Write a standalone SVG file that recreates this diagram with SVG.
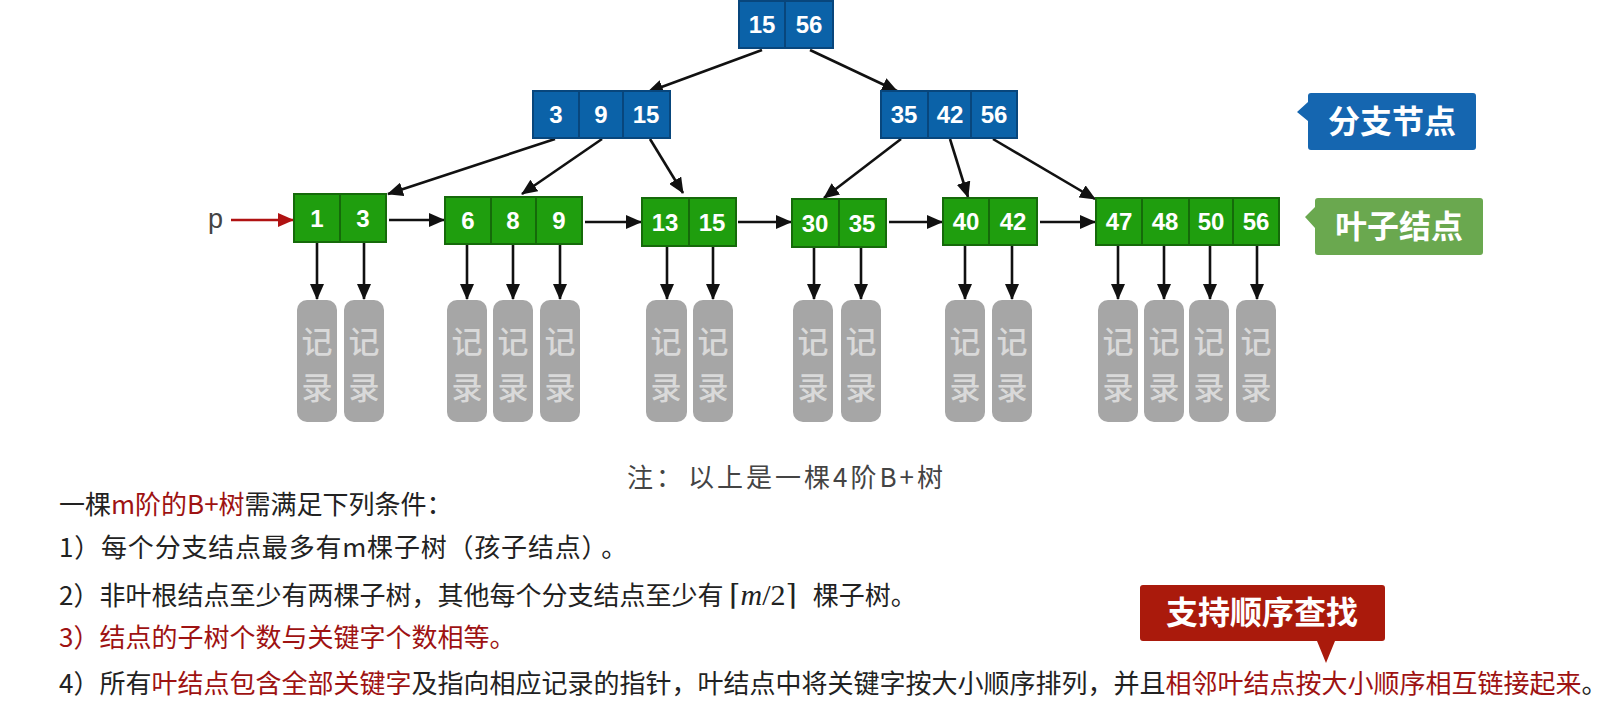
<svg xmlns="http://www.w3.org/2000/svg" width="1621" height="720" viewBox="0 0 1621 720">
<defs>
<style>
.bn{fill:#0b62a8;stroke:#08467c;stroke-width:2}
.ln{fill:#1f9e0e;stroke:#156a0a;stroke-width:2}
.bn-d{stroke:#08467c;stroke-width:2}
.ln-d{stroke:#156a0a;stroke-width:2}
.k{font-family:"Liberation Sans",Arial,sans-serif;font-weight:bold;font-size:24px;fill:#ffffff;text-anchor:middle}
.rec{fill:#a6a6a6}
.rt{font-family:"Noto Sans CJK SC",sans-serif;font-size:31px;font-weight:500;fill:#d9d9d9;text-anchor:middle}
.c{stroke:#111;stroke-width:2.6;fill:none}
.cr{stroke:#b01212;stroke-width:2.6;fill:none}
.t{font-family:"Noto Sans CJK SC",sans-serif;font-size:26px;fill:#222}
.red{fill:#9e1212}
.note{font-family:"Noto Sans CJK SC",sans-serif;font-size:26px;fill:#444;letter-spacing:3px}
.ct{font-family:"Noto Sans CJK SC",sans-serif;font-weight:bold;font-size:32px;fill:#ffffff;text-anchor:middle}
</style>
<marker id="ah" markerUnits="userSpaceOnUse" markerWidth="16" markerHeight="14" refX="15" refY="7" orient="auto">
<path d="M0,0 L16,7 L0,14 z" fill="#111"/>
</marker>
<marker id="ahr" markerUnits="userSpaceOnUse" markerWidth="16" markerHeight="14" refX="15" refY="7" orient="auto">
<path d="M0,0 L16,7 L0,14 z" fill="#b01212"/>
</marker>
</defs>
<rect width="1621" height="720" fill="#ffffff"/>

<g id="connectors">
<line class="c" x1="762" y1="50" x2="648" y2="92" marker-end="url(#ah)"/>
<line class="c" x1="810" y1="50" x2="897" y2="91" marker-end="url(#ah)"/>
<line class="c" x1="555" y1="139" x2="388" y2="194" marker-end="url(#ah)"/>
<line class="c" x1="602" y1="139" x2="522" y2="194" marker-end="url(#ah)"/>
<line class="c" x1="650" y1="139" x2="683" y2="193" marker-end="url(#ah)"/>
<line class="c" x1="901" y1="139" x2="824" y2="198" marker-end="url(#ah)"/>
<line class="c" x1="950" y1="139" x2="968" y2="197" marker-end="url(#ah)"/>
<line class="c" x1="993" y1="139" x2="1095" y2="199" marker-end="url(#ah)"/>
<line class="cr" x1="231" y1="220" x2="293" y2="220" marker-end="url(#ahr)"/>
<line class="c" x1="389" y1="220" x2="444" y2="220" marker-end="url(#ah)"/>
<line class="c" x1="585" y1="222" x2="641" y2="222" marker-end="url(#ah)"/>
<line class="c" x1="738" y1="222" x2="791" y2="222" marker-end="url(#ah)"/>
<line class="c" x1="889" y1="222" x2="942" y2="222" marker-end="url(#ah)"/>
<line class="c" x1="1040" y1="222" x2="1095" y2="222" marker-end="url(#ah)"/>
<line class="c" x1="317" y1="243" x2="317" y2="299" marker-end="url(#ah)"/>
<line class="c" x1="364" y1="243" x2="364" y2="299" marker-end="url(#ah)"/>
<line class="c" x1="467" y1="245" x2="467" y2="299" marker-end="url(#ah)"/>
<line class="c" x1="513" y1="245" x2="513" y2="299" marker-end="url(#ah)"/>
<line class="c" x1="560" y1="245" x2="560" y2="299" marker-end="url(#ah)"/>
<line class="c" x1="667" y1="247" x2="667" y2="299" marker-end="url(#ah)"/>
<line class="c" x1="713" y1="247" x2="713" y2="299" marker-end="url(#ah)"/>
<line class="c" x1="814" y1="248" x2="814" y2="299" marker-end="url(#ah)"/>
<line class="c" x1="861" y1="248" x2="861" y2="299" marker-end="url(#ah)"/>
<line class="c" x1="965" y1="246" x2="965" y2="299" marker-end="url(#ah)"/>
<line class="c" x1="1012" y1="246" x2="1012" y2="299" marker-end="url(#ah)"/>
<line class="c" x1="1118" y1="246" x2="1118" y2="299" marker-end="url(#ah)"/>
<line class="c" x1="1164" y1="246" x2="1164" y2="299" marker-end="url(#ah)"/>
<line class="c" x1="1210" y1="246" x2="1210" y2="299" marker-end="url(#ah)"/>
<line class="c" x1="1257" y1="246" x2="1257" y2="299" marker-end="url(#ah)"/>
</g>

<g id="root">
<rect class="bn" x="739" y="1" width="94" height="47"/>
<line class="bn-d" x1="785" y1="1" x2="785" y2="48"/>
<text class="k" x="762" y="33">15</text>
<text class="k" x="809" y="33">56</text>
</g>

<g id="branch-left">
<rect class="bn" x="533" y="91" width="137" height="47"/>
<line class="bn-d" x1="579" y1="91" x2="579" y2="138"/>
<line class="bn-d" x1="623" y1="91" x2="623" y2="138"/>
<text class="k" x="556" y="123">3</text>
<text class="k" x="601" y="123">9</text>
<text class="k" x="646" y="123">15</text>
</g>

<g id="branch-right">
<rect class="bn" x="881" y="91" width="136" height="47"/>
<line class="bn-d" x1="928" y1="91" x2="928" y2="138"/>
<line class="bn-d" x1="971" y1="91" x2="971" y2="138"/>
<text class="k" x="904" y="123">35</text>
<text class="k" x="950" y="123">42</text>
<text class="k" x="994" y="123">56</text>
</g>

<g id="leaf1">
<rect class="ln" x="294" y="194" width="92" height="48"/>
<line class="ln-d" x1="340" y1="194" x2="340" y2="242"/>
<text class="k" x="317" y="227">1</text>
<text class="k" x="363" y="227">3</text>
</g>

<g id="leaf2">
<rect class="ln" x="445" y="197" width="137" height="47"/>
<line class="ln-d" x1="491" y1="197" x2="491" y2="244"/>
<line class="ln-d" x1="536" y1="197" x2="536" y2="244"/>
<text class="k" x="468" y="229">6</text>
<text class="k" x="513" y="229">8</text>
<text class="k" x="559" y="229">9</text>
</g>

<g id="leaf3">
<rect class="ln" x="642" y="198" width="94" height="48"/>
<line class="ln-d" x1="689" y1="198" x2="689" y2="246"/>
<text class="k" x="665" y="231">13</text>
<text class="k" x="712" y="231">15</text>
</g>

<g id="leaf4">
<rect class="ln" x="792" y="199" width="94" height="48"/>
<line class="ln-d" x1="839" y1="199" x2="839" y2="247"/>
<text class="k" x="815" y="232">30</text>
<text class="k" x="862" y="232">35</text>
</g>

<g id="leaf5">
<rect class="ln" x="943" y="198" width="94" height="47"/>
<line class="ln-d" x1="989" y1="198" x2="989" y2="245"/>
<text class="k" x="966" y="230">40</text>
<text class="k" x="1013" y="230">42</text>
</g>

<g id="leaf6">
<rect class="ln" x="1096" y="198" width="183" height="47"/>
<line class="ln-d" x1="1142" y1="198" x2="1142" y2="245"/>
<line class="ln-d" x1="1189" y1="198" x2="1189" y2="245"/>
<line class="ln-d" x1="1233" y1="198" x2="1233" y2="245"/>
<text class="k" x="1119" y="230">47</text>
<text class="k" x="1165" y="230">48</text>
<text class="k" x="1211" y="230">50</text>
<text class="k" x="1256" y="230">56</text>
</g>

<g id="records">
<rect class="rec" x="297" y="300" width="40" height="122" rx="10"/><text class="rt" x="317" y="353">记</text><text class="rt" x="317" y="399">录</text>
<rect class="rec" x="344" y="300" width="40" height="122" rx="10"/><text class="rt" x="364" y="353">记</text><text class="rt" x="364" y="399">录</text>
<rect class="rec" x="447" y="300" width="40" height="122" rx="10"/><text class="rt" x="467" y="353">记</text><text class="rt" x="467" y="399">录</text>
<rect class="rec" x="493" y="300" width="40" height="122" rx="10"/><text class="rt" x="513" y="353">记</text><text class="rt" x="513" y="399">录</text>
<rect class="rec" x="540" y="300" width="40" height="122" rx="10"/><text class="rt" x="560" y="353">记</text><text class="rt" x="560" y="399">录</text>
<rect class="rec" x="646" y="300" width="41" height="122" rx="10"/><text class="rt" x="666" y="353">记</text><text class="rt" x="666" y="399">录</text>
<rect class="rec" x="693" y="300" width="40" height="122" rx="10"/><text class="rt" x="713" y="353">记</text><text class="rt" x="713" y="399">录</text>
<rect class="rec" x="793" y="300" width="40" height="122" rx="10"/><text class="rt" x="813" y="353">记</text><text class="rt" x="813" y="399">录</text>
<rect class="rec" x="841" y="300" width="40" height="122" rx="10"/><text class="rt" x="861" y="353">记</text><text class="rt" x="861" y="399">录</text>
<rect class="rec" x="945" y="300" width="40" height="122" rx="10"/><text class="rt" x="965" y="353">记</text><text class="rt" x="965" y="399">录</text>
<rect class="rec" x="992" y="300" width="40" height="122" rx="10"/><text class="rt" x="1012" y="353">记</text><text class="rt" x="1012" y="399">录</text>
<rect class="rec" x="1098" y="300" width="40" height="122" rx="10"/><text class="rt" x="1118" y="353">记</text><text class="rt" x="1118" y="399">录</text>
<rect class="rec" x="1144" y="300" width="40" height="122" rx="10"/><text class="rt" x="1164" y="353">记</text><text class="rt" x="1164" y="399">录</text>
<rect class="rec" x="1189" y="300" width="40" height="122" rx="10"/><text class="rt" x="1209" y="353">记</text><text class="rt" x="1209" y="399">录</text>
<rect class="rec" x="1236" y="300" width="40" height="122" rx="10"/><text class="rt" x="1256" y="353">记</text><text class="rt" x="1256" y="399">录</text>
</g>

<g id="pointer-p">
<text x="208" y="228" font-family="Liberation Sans, Arial, sans-serif" font-size="27" fill="#444">p</text>
</g>

<g id="callout-branch">
<path d="M1311,93 H1473 Q1476,93 1476,96 V147 Q1476,150 1473,150 H1311 Q1308,150 1308,147 V121 L1297,112 L1308,102 V96 Q1308,93 1311,93 Z" fill="#1566b0"/>
<text class="ct" x="1392" y="133">分支节点</text>
</g>

<g id="callout-leaf">
<path d="M1318,198 H1480 Q1483,198 1483,201 V252 Q1483,255 1480,255 H1318 Q1315,255 1315,252 V228 L1305,217 L1315,207 V201 Q1315,198 1318,198 Z" fill="#6aa84f"/>
<text class="ct" x="1399" y="238">叶子结点</text>
</g>

<g id="callout-seq">
<path d="M1143,585 H1382 Q1385,585 1385,588 V638 Q1385,641 1382,641 H1335 L1326,663 L1317,641 H1143 Q1140,641 1140,638 V588 Q1140,585 1143,585 Z" fill="#aa1a0c"/>
<text class="ct" x="1262" y="624" font-size="31">支持顺序查找</text>
</g>

<g id="texts">
<text class="note" x="627" y="487">注：<tspan dx="3">以上是一棵4阶B+树</tspan></text>
<text class="t" x="59" y="514">一棵<tspan class="red">m阶的B+树</tspan>需满足下列条件：</text>
<text class="t" x="59" y="557" letter-spacing="0.8">1）每个分支结点最多有m棵子树（孩子结点）<tspan dx="6">。</tspan></text>
<text class="t" x="59" y="605">2）非叶根结点至少有两棵子树，其他每个分支结点至少有 <tspan font-family="DejaVu Serif, serif" font-size="29">⌈</tspan><tspan font-family="Liberation Serif, serif" font-style="italic" font-size="30">m</tspan><tspan font-family="Liberation Serif, serif" font-size="30">/2</tspan><tspan font-family="DejaVu Serif, serif" font-size="29">⌉</tspan><tspan dx="10"> 棵子树。</tspan></text>
<text class="t red" x="59" y="647">3）结点的子树个数与关键字个数相等。</text>
<text class="t" x="59" y="693">4）所有<tspan class="red">叶结点包含全部关键字</tspan>及指向相应记录的指针，叶结点中将关键字按大小顺序排列，并且<tspan class="red">相邻叶结点按大小顺序相互链接起来</tspan>。</text>
</g>
</svg>
